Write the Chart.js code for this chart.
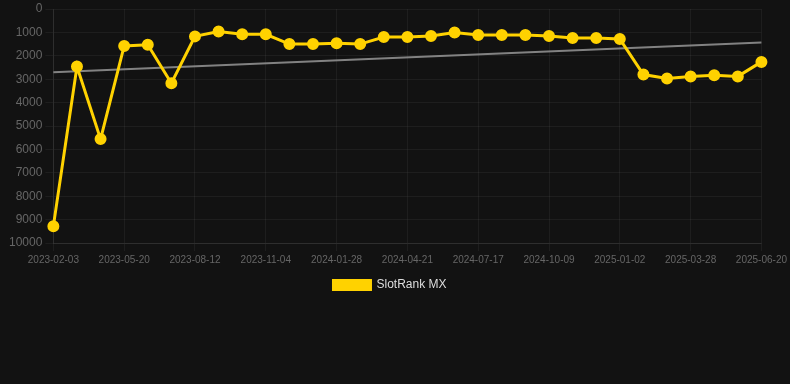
<!DOCTYPE html>
<html>
<head>
<meta charset="utf-8">
<script src="https://cdn.jsdelivr.net/npm/chart.js@4"></script>
<style>
    html, body { margin: 0; padding: 0; background: #121212; }
    #wrap { width: 790px; height: 307px; position: relative; }
</style>
</head>
<body>
<div id="wrap"><canvas id="rankChart"></canvas></div>
<script>
// Dates (one point roughly every 4 weeks)
const dates = [
    "2023-02-03", "2023-03-08", "2023-04-14", "2023-05-20", "2023-06-17", "2023-07-15",
    "2023-08-12", "2023-09-09", "2023-10-07", "2023-11-04", "2023-12-02", "2023-12-31",
    "2024-01-28", "2024-02-25", "2024-03-24", "2024-04-21", "2024-05-19", "2024-06-17",
    "2024-07-17", "2024-08-14", "2024-09-11", "2024-10-09", "2024-11-06", "2024-12-05",
    "2025-01-02", "2025-01-30", "2025-02-28", "2025-03-28", "2025-04-25", "2025-05-23",
    "2025-06-20"
];

// Rank values (lower = better)
const rankMX = [
    9280, 2460, 5560, 1580, 1530, 3170, 1170, 960, 1080, 1080,
    1500, 1500, 1460, 1500, 1200, 1200, 1150, 1000, 1110, 1110,
    1110, 1150, 1240, 1240, 1280, 2800, 2970, 2880, 2830, 2880,
    2260
];

// Trend line end points
const trendStart = 2700;
const trendEnd = 1430;
const trend = dates.map((d, i) => i === 0 ? trendStart : (i === dates.length - 1 ? trendEnd : null));

const yTicks = { min: 0, max: 10000, step: 1000 };

const ctx = document.getElementById("rankChart").getContext("2d");
new Chart(ctx, {
    type: "line",
    data: {
        labels: dates,
        datasets: [
            {
                label: "SlotRank MX",
                data: rankMX,
                borderColor: "#ffd200",
                backgroundColor: "#ffd200",
                borderWidth: 3,
                pointRadius: 4.5,
                pointHoverRadius: 6,
                tension: 0
            },
            {
                label: "Trend",
                data: trend,
                borderColor: "rgba(150,150,150,0.85)",
                borderWidth: 2,
                pointRadius: 0,
                spanGaps: true,
                tension: 0
            }
        ]
    },
    options: {
        responsive: true,
        maintainAspectRatio: false,
        animation: false,
        layout: { padding: { left: 6, right: 16, top: 0, bottom: 6 } },
        plugins: {
            legend: {
                position: "bottom",
                labels: {
                    color: "#dddddd",
                    font: { family: "Liberation Sans, Arial", size: 12 },
                    boxWidth: 37,
                    boxHeight: 9,
                    filter: item => item.text !== "Trend"
                }
            },
            tooltip: { enabled: false }
        },
        scales: {
            x: {
                grid: { color: "rgba(255,255,255,0.05)" },
                border: { color: "rgba(255,255,255,0.08)" },
                ticks: {
                    color: "#666666",
                    font: { family: "Liberation Sans, Arial", size: 10 },
                    autoSkip: false,
                    maxRotation: 0,
                    callback: function (val, idx) {
                        return idx % 3 === 0 ? dates[idx] : null;
                    }
                }
            },
            y: {
                reverse: true,
                min: yTicks.min,
                max: yTicks.max,
                grid: { color: "rgba(255,255,255,0.05)" },
                border: { color: "rgba(255,255,255,0.08)" },
                ticks: {
                    stepSize: yTicks.step,
                    color: "#666666",
                    font: { family: "Liberation Sans, Arial", size: 12, lineHeight: 1 },
                    callback: v => String(v)
                }
            }
        }
    }
});
</script>
</body>
</html>
